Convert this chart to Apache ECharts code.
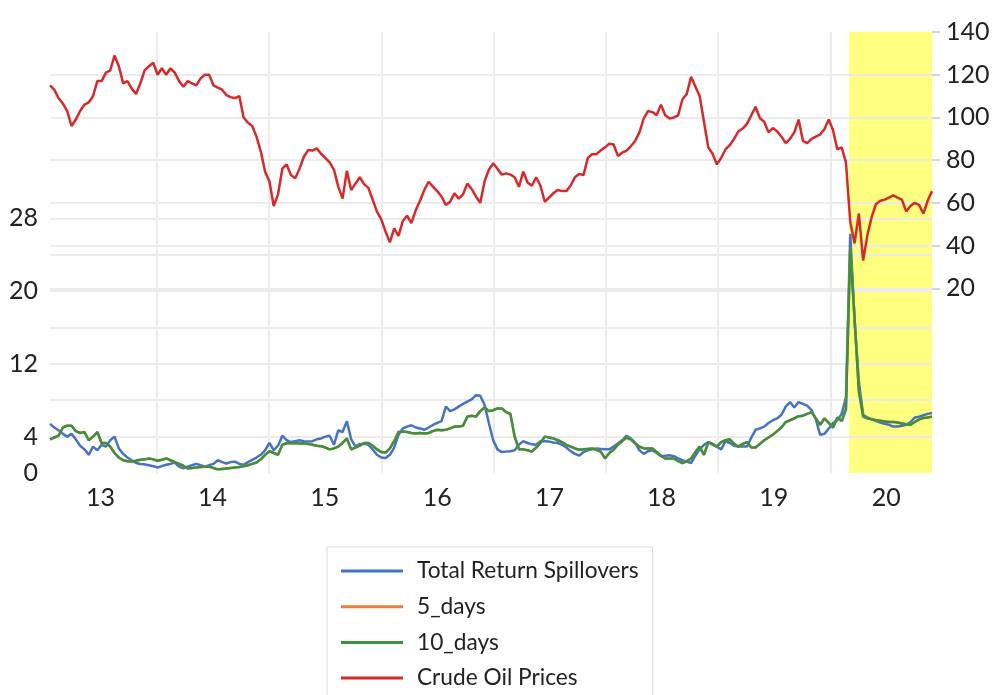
<!DOCTYPE html>
<html><head><meta charset="utf-8">
<script src="https://cdn.jsdelivr.net/npm/echarts@6/dist/echarts.min.js"></script>
<style>html,body{margin:0;padding:0;background:#fff}#c{width:993px;height:695px}</style>
</head><body><div id="c"></div><script>
// sampling grid: one value every 14 days starting 2013-01-18
const SAMPLE_START = [2013, 0, 18];
const SAMPLE_STEP_DAYS = 14;

const totalSpill = [
5.4,5.0,4.7,4.3,4.0,4.3,3.7,3.0,2.6,2.0,
2.9,2.5,3.1,2.9,3.6,4.0,2.7,2.1,1.7,1.4,
1.1,1.0,0.95,0.85,0.75,0.6,0.75,0.9,1.0,1.15,
0.7,0.5,0.7,0.85,1.0,0.85,0.7,0.85,1.0,1.4,
1.2,1.05,1.2,1.25,1.0,0.9,1.2,1.45,1.7,2.0,
2.5,3.3,2.5,3.0,4.1,3.6,3.4,3.5,3.6,3.5,
3.45,3.5,3.7,3.8,4.0,4.1,3.1,4.7,4.5,5.7,
3.7,2.9,3.2,3.2,3.1,2.6,2.0,1.7,1.65,2.0,
2.8,4.2,4.9,5.1,5.25,5.0,4.9,4.75,5.0,5.28,
5.5,5.7,7.3,6.8,7.0,7.3,7.6,7.85,8.1,8.55,
8.5,7.5,5.5,3.6,2.6,2.3,2.35,2.4,2.5,3.1,
3.5,3.3,3.15,3.1,3.5,3.5,3.45,3.35,3.3,3.1,
2.8,2.4,2.1,1.9,2.3,2.5,2.6,2.7,2.65,2.6,
2.6,2.9,3.25,3.6,4.1,3.8,3.3,2.5,2.1,2.4,
2.5,2.2,1.85,1.9,1.95,1.85,1.6,1.4,1.25,1.1,
1.9,2.6,3.1,3.4,3.1,2.9,2.6,3.5,3.3,3.0,
2.9,2.9,2.9,3.9,4.75,4.9,5.1,5.5,5.8,6.0,
6.4,7.3,7.8,7.2,7.8,7.6,7.4,6.9,5.9,4.2,
4.3,4.9,5.5,5.8,6.5,8.3,26.3,16.8,10.0,6.4,
6.1,5.9,5.7,5.55,5.4,5.3,5.1,5.1,5.2,5.3,
5.6,6.1,6.2,6.35,6.5,6.6];

const tenDays = [
3.7,3.9,4.1,5.0,5.2,5.2,4.6,4.4,4.5,3.6,
4.0,4.5,3.3,3.3,2.9,2.2,1.7,1.4,1.3,1.25,
1.35,1.45,1.5,1.6,1.5,1.35,1.45,1.6,1.4,1.2,
1.0,0.8,0.5,0.55,0.6,0.65,0.7,0.7,0.55,0.4,
0.45,0.5,0.55,0.6,0.65,0.75,0.85,1.0,1.15,1.5,
2.0,2.4,2.2,2.0,3.1,3.27,3.27,3.3,3.25,3.27,
3.2,3.1,3.0,2.95,2.8,2.6,2.7,2.9,3.3,3.8,
2.6,2.8,3.0,3.3,3.3,3.0,2.6,2.3,2.25,2.7,
3.5,4.5,4.55,4.5,4.4,4.35,4.4,4.35,4.4,4.6,
4.75,4.7,4.75,4.9,5.1,5.1,5.2,6.2,6.3,6.2,
6.8,7.2,6.8,6.9,7.1,7.1,6.7,6.5,4.0,2.6,
2.6,2.5,2.35,2.8,3.3,4.0,3.9,3.8,3.6,3.4,
3.1,2.9,2.7,2.55,2.6,2.65,2.7,2.55,2.35,1.6,
2.2,2.55,3.1,3.5,3.9,3.7,3.27,2.9,2.7,2.7,
2.7,2.3,1.9,1.6,1.6,1.6,1.3,1.1,1.3,1.6,
2.3,2.9,2.0,3.4,3.2,2.9,3.4,3.6,3.7,3.2,
2.9,3.2,3.4,2.8,2.8,3.2,3.6,3.9,4.2,4.6,
5.0,5.6,5.8,6.0,6.25,6.3,6.5,6.7,6.0,5.3,
6.0,5.5,5.0,6.1,5.7,7.0,24.8,17.0,9.0,6.2,
6.0,5.9,5.8,5.75,5.65,5.6,5.6,5.55,5.45,5.35,
5.3,5.6,5.9,6.05,6.1,6.2];

// the 5_days series lies exactly under the 10_days one in the picture
const fiveDays = tenDays;

const oilPrice = [
115,113,109,106.5,103,96,99,103,106,107,
110,117,117,121,122,129,124,116,117,113.5,
111,116,122,124,125.6,120,123,120,123,121,
117,114.4,117,116,115,118.3,120,120,115,114,
113,110.5,109.5,109,110,100,97.5,96,91,84,
74.6,70,58.5,64,76,78,73,71.5,76,81.6,
84.7,84.5,85.5,83,81,79,75.5,67.6,62,75,
66,69,72,68.8,67,61.5,55.9,52.3,46.5,41.5,
48,44.5,51.5,54,50.5,56.5,61,66,69.9,67.6,
65.5,63,59,60.5,64.5,62,64,69,66.5,63,
60,70,75.5,78.5,76,73.2,73.8,73.2,72,67.5,
74.6,69.5,68,72,68,60.5,62.5,64.5,66,65.5,
65.5,68,72,73.5,73,81,82.8,82.8,84.5,86,
87.7,87.3,82,83.5,84.5,86.5,89,93,99.5,103,
102.5,101,106,101,99.5,100,101,108.5,111,119,
114.5,110,98,86,83,78,81,85,87,90,
93.5,94.8,97,101,105,99.6,98,93,95,93.5,
91,88,90,93,99,89,88,90,91,92,
94.5,99,94,85,86,79,51,41,55,33,
45,53.5,59.5,61,61.5,62.5,63.5,62.5,61.5,56,
58.5,60,59,55,61,65.5];

const seriesNames = ['Total Return Spillovers', '5_days', '10_days', 'Crude Oil Prices'];
const seriesColors = ['#4472C4', '#ED7D31', '#3C9141', '#D42A2A'];
const yearLabels = [2013, 2014, 2015, 2016, 2017, 2018, 2019, 2020];
const yearBoundaries = [2014, 2015, 2016, 2017, 2018, 2019, 2020];
const leftLabelValues = [0, 4, 12, 20, 28];
const leftGridValues = [4, 8, 12, 16, 20, 24, 28];
const rightTickValues = [20, 40, 60, 80, 100, 120, 140];
const shadeStart = [2020, 2, 2];

const DAY = 86400000;
const ts = (y, m, d) => new Date(y, m, d).getTime();
const t0 = ts(SAMPLE_START[0], SAMPLE_START[1], SAMPLE_START[2]);
const times = totalSpill.map((_, k) => t0 + k * SAMPLE_STEP_DAYS * DAY);
const zip = arr => arr.map((v, k) => [times[k], v]);

const FONT = 'Lato';
const TXT = '#222222';
const GRID = '#ebebeb';

const chart = echarts.init(document.getElementById('c'), null, {renderer: 'canvas'});
const lineSeries = (i, data, yIdx, extra) => Object.assign({
  name: seriesNames[i], type: 'line', data: zip(data), yAxisIndex: yIdx,
  showSymbol: false, symbol: 'none', animation: false,
  lineStyle: {width: 2.5, color: seriesColors[i]},
  itemStyle: {color: seriesColors[i]},
  emphasis: {disabled: true}
}, extra || {});

const yLabel = {fontFamily: FONT, fontSize: 25, color: TXT, padding: [0, 0, 6, 0]};

chart.setOption({
  animation: false,
  textStyle: {fontFamily: FONT},
  grid: {left: 50, right: 61, top: 32, bottom: 222, containLabel: false},
  legend: {
    orient: 'vertical', left: 327, top: 547, height: 220,
    padding: [9, 14, 24, 14],
    borderColor: '#d9d9d9', borderWidth: 1,
    itemWidth: 62, itemHeight: 3, itemGap: 5.7, icon: 'rect',
    textStyle: {fontFamily: FONT, fontSize: 22.7, color: TXT, lineHeight: 30, padding: [0, 0, 0, 9]},
    data: seriesNames
  },
  xAxis: {
    type: 'value',
    min: times[0], max: times[times.length - 1],
    axisLine: {show: false},
    axisTick: {show: false, customValues: yearBoundaries.map(y => ts(y, 0, 1))},
    splitLine: {show: true, lineStyle: {color: GRID, width: 2}},
    axisLabel: {
      customValues: yearLabels.map(y => ts(y, 6, 1)),
      formatter: v => String(new Date(v).getFullYear()).slice(2),
      fontFamily: FONT, fontSize: 25, color: TXT, margin: 12
    }
  },
  yAxis: [{
    type: 'value', position: 'left', min: 0, max: 48.48,
    axisLine: {show: false},
    axisTick: {show: false, customValues: leftGridValues},
    splitLine: {show: true, lineStyle: {color: GRID, width: 2}},
    axisLabel: Object.assign({customValues: leftLabelValues, margin: 12}, yLabel)
  }, {
    type: 'value', position: 'right', min: -66.48, max: 140,
    axisLine: {show: false},
    axisTick: {show: true, length: 8, customValues: rightTickValues, lineStyle: {color: '#d4d4d4', width: 2}},
    splitLine: {show: true, showMaxLine: false, lineStyle: {color: GRID, width: 2}},
    axisLabel: Object.assign({customValues: rightTickValues, margin: 14}, yLabel)
  }],
  series: [
    lineSeries(0, totalSpill, 0, {
      markArea: {
        silent: true, z: -1,
        itemStyle: {color: '#FFFF80'},
        data: [[{xAxis: ts(shadeStart[0], shadeStart[1], shadeStart[2])}, {xAxis: times[times.length - 1]}]]
      }
    }),
    lineSeries(1, fiveDays, 0),
    lineSeries(2, tenDays, 0),
    lineSeries(3, oilPrice, 1)
  ]
});
</script></body></html>
